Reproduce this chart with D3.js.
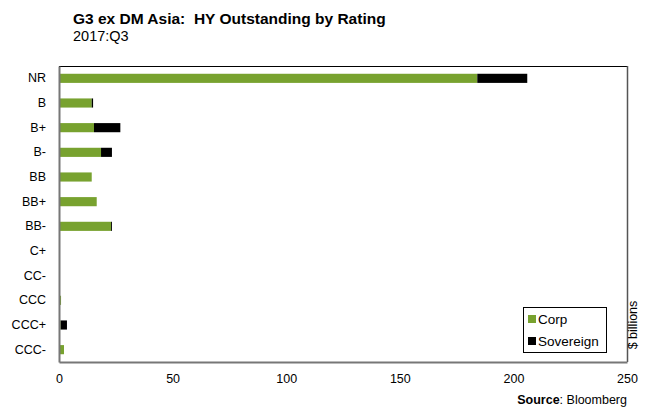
<!DOCTYPE html>
<html><head><meta charset="utf-8">
<script src="https://cdn.jsdelivr.net/npm/d3@7"></script>
<style>body{margin:0;background:#fff;font-family:Arial,"Liberation Sans",sans-serif;} text{white-space:pre;}</style>
</head><body>
<svg id="c" width="646" height="409"></svg>
<script>
const categories = ["NR","B","B+","B-","BB","BB+","BB-","C+","CC-","CCC","CCC+","CCC-"];
const corp      = [184.1,14.4,15.4,18.5,14.4,16.6,22.9,0,0,0.9,0.7,2.2];
const sovereign = [22.0,0.6,11.6,4.8,0,0,0.4,0,0,0,2.8,0];
const xTicks = [0,50,100,150,200,250];
const seriesNames = ["Corp","Sovereign"];
const colors = ["#78a22f","#000000"];

const svg = d3.select("#c");
const L=59, R=627, T=66, B=362;
const x = d3.scaleLinear().domain([0,250]).range([L,R]);
const y = d3.scaleBand().domain(categories).range([T,B]).paddingInner(0.63).paddingOuter(0.315);

// title
svg.append("text").attr("x",73).attr("y",24).attr("font-size",15.5).attr("font-weight","bold").text("G3 ex DM Asia:  HY Outstanding by Rating");
svg.append("text").attr("x",73).attr("y",41).attr("font-size",14.5).text("2017:Q3");

// frame
svg.append("line").attr("x1",L).attr("x2",R).attr("y1",T+0.5).attr("y2",T+0.5).attr("stroke","#000").attr("stroke-width",1);
svg.append("line").attr("x1",R+0.5).attr("x2",R+0.5).attr("y1",T).attr("y2",B).attr("stroke","#555").attr("stroke-width",1.5);

const data = categories.map((c,i)=>({cat:c, corp:corp[i], sov:sovereign[i]}));
const stack = d3.stack().keys(["corp","sov"])(data);
stack.forEach((s,si)=>{
  svg.append("g").selectAll("rect").data(s).join("rect")
    .attr("x",d=>x(d[0])).attr("width",d=>Math.max(0,x(d[1])-x(d[0])))
    .attr("y",d=>y(d.data.cat)).attr("height",y.bandwidth())
    .attr("fill",colors[si]);
});

// axes
const xa = svg.append("g").attr("transform",`translate(0,${B})`)
  .call(d3.axisBottom(x).tickValues(xTicks).tickSize(0).tickPadding(12));
xa.select(".domain").attr("stroke","#777").attr("stroke-width",2);
xa.selectAll("text").attr("font-size",12.5).attr("font-family","Arial,'Liberation Sans',sans-serif").attr("fill","#000");

const ya = svg.append("g").attr("transform",`translate(${L},0)`)
  .call(d3.axisLeft(y).tickSize(0).tickPadding(13));
ya.select(".domain").attr("stroke","#777").attr("stroke-width",2);
ya.selectAll("text").attr("font-size",12.5).attr("font-family","Arial,'Liberation Sans',sans-serif").attr("fill","#000");

// legend
const lg = svg.append("g");
lg.append("rect").attr("x",523.5).attr("y",307.5).attr("width",83).attr("height",45).attr("fill","#fff").attr("stroke","#000");
seriesNames.forEach((n,i)=>{
  lg.append("rect").attr("x",528).attr("y",315+i*22).attr("width",8).attr("height",8).attr("fill",colors[i]);
  lg.append("text").attr("x",538).attr("y",324+i*22).attr("font-size",13.5).text(n);
});

// unit label
svg.append("text").attr("transform","translate(637,325) rotate(-90)").attr("text-anchor","middle").attr("font-size",12.5).text("$ billions");

// source
const src = svg.append("text").attr("x",627).attr("y",404).attr("text-anchor","end").attr("font-size",12.5);
src.append("tspan").attr("font-weight","bold").text("Source");
src.append("tspan").text(": Bloomberg");
</script>
</body></html>
